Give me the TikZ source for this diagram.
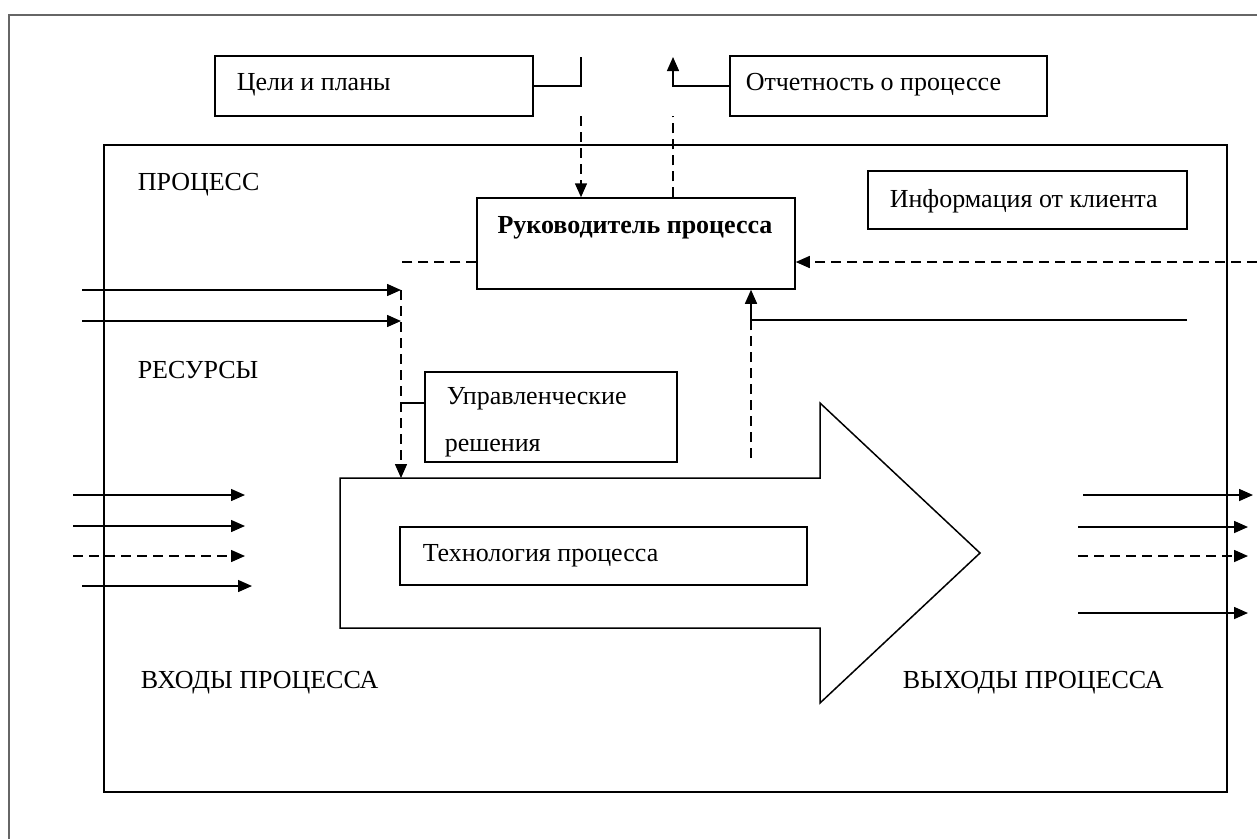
\documentclass[tikz,border=0pt]{standalone}
\usepackage{fontspec}
\setmainfont{Liberation Serif}
\usetikzlibrary{arrows.meta}
\begin{document}
\begin{tikzpicture}[x=1pt,y=-1pt,line width=1.5pt,
  box/.style={draw,rectangle,inner sep=0pt},
  txt/.style={anchor=base west,inner sep=0pt,font=\fontsize{26}{31}\selectfont},
  arr/.style={-{Triangle[length=14pt,width=12pt]}},
  dsh/.style={dash pattern=on 10pt off 6pt}]
\useasboundingbox (0,0) rectangle (1257,839);
% outer frame
\draw[gray!80!black,line width=2pt] (9,839) -- (9,15) -- (1257,15);
% main process rectangle
\node[box,minimum width=1123pt,minimum height=647pt] (proc) at (665.5,468.5) {};
% top boxes
\node[box,minimum width=318pt,minimum height=60pt] (g) at (374,86) {};
\node[txt] (gt) at (236,90) {Цели и планы};
\node[box,minimum width=317pt,minimum height=60pt] (r) at (888.5,86) {};
\node[txt] (rt) at (745,90) {Отчетность о процессе};
\node[box,minimum width=319pt,minimum height=58pt] (ci) at (1027.5,200) {};
\node[txt] (cit) at (889,207) {Информация от клиента};
% manager
\node[box,minimum width=318pt,minimum height=91pt] (m) at (636,243.5) {};
\node[txt,anchor=base,font=\fontsize{26}{31}\selectfont\bfseries] (mt) at (635,233) {Руководитель процесса};
% decisions
\node[box,minimum width=252pt,minimum height=90pt] (u) at (551,417) {};
\node[txt] (ut1) at (446,404) {Управленческие};
\node[txt] (ut2) at (444,451) {решения};
% big arrow
\draw (340,478) -- (820,478) -- (820,403) -- (980,553) -- (820,703) -- (820,628) -- (340,628) -- cycle;
\coordinate (bigtop) at (401,478);
\node[box,minimum width=407pt,minimum height=58pt] (t) at (603.5,556) {};
\node[txt] (tt) at (422,561) {Технология процесса};
% labels
\node[txt] (l1) at (137,190) {ПРОЦЕСС};
\node[txt] (l2) at (137,378) {РЕСУРСЫ};
\node[txt] (l3) at (140,688) {ВХОДЫ ПРОЦЕССА};
\node[txt] (l4) at (902,688) {ВЫХОДЫ ПРОЦЕССА};
% goals connector
\coordinate (gc) at (581,57);
\draw (g.east) -- (g.east -| gc) -- (gc);
\coordinate (gd) at (581,116);
\draw[dsh,arr] (gd) -- (gd |- m.north);
% report connector
\coordinate (rc) at (673,57);
\draw[arr] (r.west) -- (r.west -| rc) -- (rc);
\coordinate (rd) at (673,116);
\draw[dsh] (m.north -| rd) -- (rd);
% dashed lines at manager sides
\coordinate (ml) at (401,262);
\draw[dsh] (m.west |- ml) -- (ml);
\coordinate (cin) at (1257,262);
\draw[dsh,arr] (cin) -- (m.east |- cin);
% resources
\coordinate (r1s) at (82,290); \coordinate (r1e) at (401,290);
\coordinate (r2s) at (82,321); \coordinate (r2e) at (401,321);
\draw[arr] (r1s) -- (r1e);
\draw[arr] (r2s) -- (r2e);
\draw[dsh,arr] (r1e) -- (bigtop);
\coordinate (ut) at (401,403);
\draw (ut) -- (u.west |- ut);
% feedback
\coordinate (fb1) at (1187,320); \coordinate (fb2) at (751,320);
\draw (fb1) -- (fb2);
\draw ([yshift=7pt]fb2) -- ([yshift=-7pt]fb2);
\coordinate (fbd) at (751,458);
\draw[dsh,arr] (fbd) -- (fbd |- m.south);
% inputs
\coordinate (i1s) at (73,495); \coordinate (i1e) at (245,495);
\coordinate (i2s) at (73,526); \coordinate (i2e) at (245,526);
\coordinate (i3s) at (73,556); \coordinate (i3e) at (245,556);
\coordinate (i4s) at (82,586); \coordinate (i4e) at (252,586);
\draw[arr] (i1s) -- (i1e);
\draw[arr] (i2s) -- (i2e);
\draw[arr,dsh] (i3s) -- (i3e);
\draw[arr] (i4s) -- (i4e);
% outputs
\coordinate (o1s) at (1083,495); \coordinate (o1e) at (1253,495);
\coordinate (o2s) at (1078,527); \coordinate (o2e) at (1248,527);
\coordinate (o3s) at (1078,556); \coordinate (o3e) at (1248,556);
\coordinate (o4s) at (1078,613); \coordinate (o4e) at (1248,613);
\draw[arr] (o1s) -- (o1e);
\draw[arr] (o2s) -- (o2e);
\draw[arr,dsh] (o3s) -- (o3e);
\draw[arr] (o4s) -- (o4e);
\end{tikzpicture}
\end{document}
